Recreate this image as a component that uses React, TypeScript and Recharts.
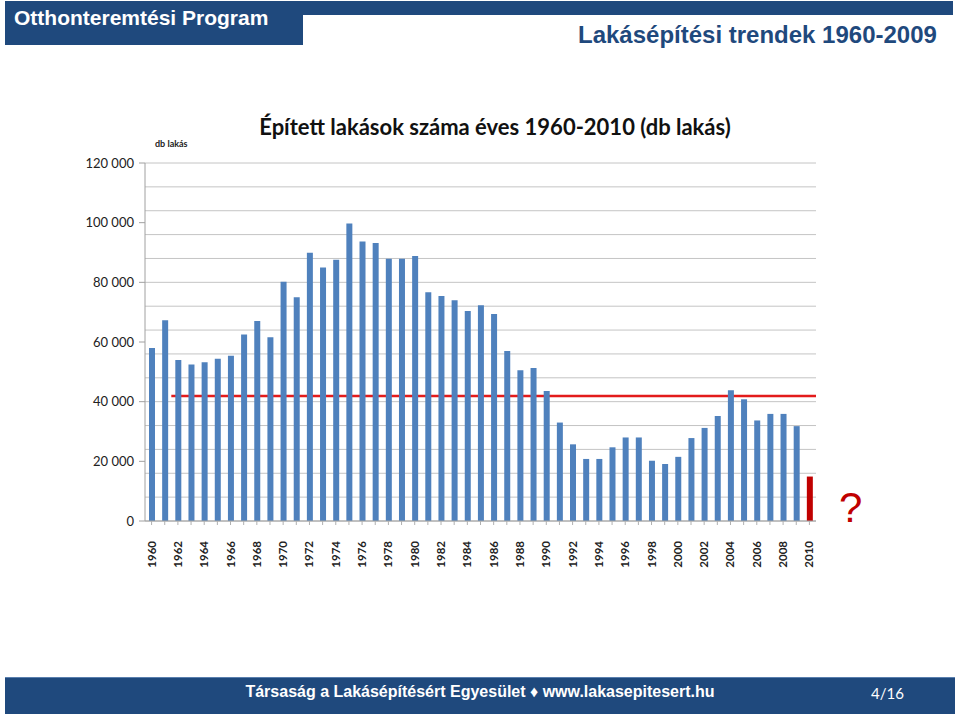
import { BarChart, Bar, XAxis, YAxis, CartesianGrid, ReferenceArea, Cell } from 'recharts';

const years = [
  '1960', '1961', '1962', '1963', '1964', '1965', '1966', '1967', '1968', '1969',
  '1970', '1971', '1972', '1973', '1974', '1975', '1976', '1977', '1978', '1979',
  '1980', '1981', '1982', '1983', '1984', '1985', '1986', '1987', '1988', '1989',
  '1990', '1991', '1992', '1993', '1994', '1995', '1996', '1997', '1998', '1999',
  '2000', '2001', '2002', '2003', '2004', '2005', '2006', '2007', '2008', '2009',
  '2010',
];

// épített lakások (db)
const built = [
  58000, 67300, 54000, 52500, 53200, 54400, 55400, 62500, 67000, 61600,
  80200, 75000, 89900, 85000, 87600, 99700, 93700, 93200, 87900, 87900,
  88800, 76700, 75400, 74000, 70400, 72300, 69400, 57000, 50500, 51300,
  43600, 33000, 25700, 20800, 20800, 24700, 28000, 28000, 20200, 19100,
  21500, 27800, 31200, 35200, 43800, 40800, 33700, 35900, 35900, 31800,
  14900,
];

const yTicks = [0, 20000, 40000, 60000, 80000, 100000, 120000];
const gridValues = [
  0, 4000, 8000, 12000, 16000, 20000, 24000, 28000, 32000, 36000, 40000,
  44000, 48000, 52000, 56000, 60000, 64000, 68000, 72000, 76000, 80000,
  84000, 88000, 92000, 96000, 100000, 104000, 108000, 112000, 116000, 120000,
];

// átlagvonal 1962-2010
const averageLevel = 41900;
const averageHalfWidth = 450;
const averageFrom = '1962';
const averageTo = '2010';
const highlightYear = '2010';

const data = years.map((year, i) => ({ year, built: built[i] }));

const BLUE = '#1f497d';

const fmt = (v: number) => String(v).replace(/\B(?=(\d{3})+(?!\d))/g, ' ');

function YearTick(props: any) {
  const { x, y, payload, index } = props;
  return (
    <g transform={`translate(${x},${y})`}>
      {index % 2 === 0 && (
        <text
          transform="rotate(-90)"
          x={-14}
          y={4}
          textAnchor="end"
          fontFamily="Lato"
          fontWeight="bold"
          fontSize={11.5}
          fill="#222"
        >
          {payload.value}
        </text>
      )}
    </g>
  );
}

export default function App() {
  return (
    <div
      style={{
        position: 'absolute',
        left: 0,
        top: 0,
        width: 960,
        height: 716,
        background: '#fff',
        overflow: 'hidden',
        fontFamily: '"Liberation Sans", Arial, sans-serif',
      }}
    >
      {/* fejléc */}
      <div style={{ position: 'absolute', left: 5, top: 1, width: 298, height: 44, background: BLUE }} />
      <div style={{ position: 'absolute', left: 302, top: 1, width: 651, height: 14, background: BLUE }} />
      <div
        style={{
          position: 'absolute',
          left: 14,
          top: 6,
          color: '#fff',
          fontWeight: 'bold',
          fontSize: 21,
          whiteSpace: 'nowrap',
        }}
      >
        Otthonteremtési Program
      </div>
      <div
        style={{
          position: 'absolute',
          left: 578,
          top: 21,
          color: BLUE,
          fontWeight: 'bold',
          fontSize: 24,
          whiteSpace: 'nowrap',
        }}
      >
        Lakásépítési trendek 1960-2009
      </div>

      <div
        style={{
          position: 'absolute',
          left: 0,
          width: 990,
          top: 113,
          textAlign: 'center',
          fontFamily: 'Lato',
          fontWeight: 'bold',
          fontSize: 22,
          color: '#111',
          whiteSpace: 'nowrap',
        }}
      >
        Épített lakások száma éves 1960-2010 (db lakás)
      </div>
      <div
        style={{
          position: 'absolute',
          left: 155,
          top: 138,
          fontFamily: 'Lato',
          fontWeight: 'bold',
          fontSize: 9,
          color: '#222',
        }}
      >
        db lakás
      </div>

      <div style={{ position: 'absolute', left: 0, top: 0 }}>
        <BarChart
          width={960}
          height={716}
          data={data}
          margin={{ top: 163, right: 144, bottom: 155, left: 85 }}
          barCategoryGap={0}
        >
          <CartesianGrid
            vertical={false}
            horizontalValues={gridValues}
            stroke="#c4c4c4"
            strokeWidth={1}
          />
          <XAxis
            dataKey="year"
            interval={0}
            height={40}
            tick={<YearTick />}
            tickLine={{ stroke: '#b0b0b0' }}
            tickSize={4}
            axisLine={{ stroke: '#a0a0a0' }}
          />
          <YAxis
            width={60}
            domain={[0, 120000]}
            ticks={yTicks}
            tickFormatter={fmt}
            tick={{ fill: '#222', fontSize: 13, fontFamily: 'Lato' }}
            tickLine={{ stroke: '#a0a0a0' }}
            tickSize={6}
            tickMargin={5}
            axisLine={{ stroke: '#a0a0a0' }}
          />
          <Bar dataKey="built" fill="#4f81bd" barSize={6} isAnimationActive={false}>
            {data.map((d) => (
              <Cell key={d.year} fill={d.year === highlightYear ? '#c00000' : '#4f81bd'} />
            ))}
          </Bar>
          <ReferenceArea
            x1={averageFrom}
            x2={averageTo}
            y1={averageLevel - averageHalfWidth}
            y2={averageLevel + averageHalfWidth}
            fill="#e31b1b"
            fillOpacity={1}
            stroke="none"
          />
        </BarChart>
      </div>

      <div
        style={{
          position: 'absolute',
          left: 839,
          top: 485,
          color: '#c00000',
          fontSize: 42,
          lineHeight: '46px',
        }}
      >
        ?
      </div>

      {/* lábléc */}
      <div
        style={{
          position: 'absolute',
          left: 5,
          top: 677,
          width: 950,
          height: 37,
          background: BLUE,
          borderTop: '1px solid #5a7fae',
          boxSizing: 'border-box',
        }}
      />
      <div
        style={{
          position: 'absolute',
          left: 0,
          width: 960,
          top: 683,
          textAlign: 'center',
          color: '#fff',
          fontWeight: 'bold',
          fontSize: 16,
          whiteSpace: 'nowrap',
        }}
      >
        Társaság a Lakásépítésért Egyesület ♦ www.lakasepitesert.hu
      </div>
      <div
        style={{
          position: 'absolute',
          left: 871,
          top: 684,
          color: '#fff',
          fontFamily: 'Lato',
          fontSize: 15,
        }}
      >
        4/16
      </div>
    </div>
  );
}
